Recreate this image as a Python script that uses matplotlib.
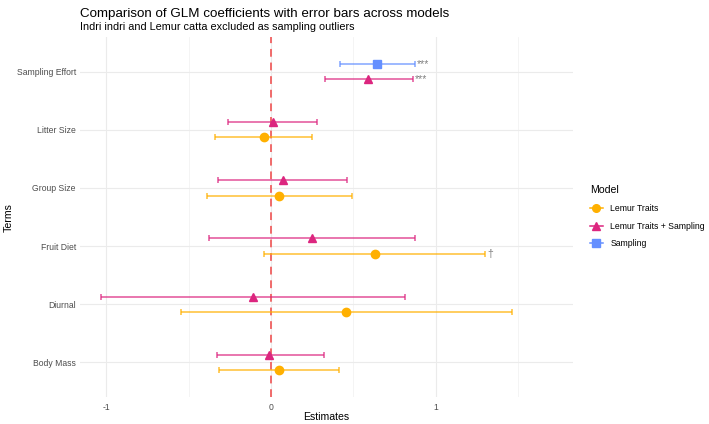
import matplotlib.pyplot as plt
from matplotlib.lines import Line2D
import numpy as np

plt.rcParams['font.family'] = ['Liberation Sans', 'DejaVu Sans']

# Data
terms = ['Body Mass', 'Diurnal', 'Fruit Diet', 'Group Size', 'Litter Size', 'Sampling Effort']
models = ['Lemur Traits', 'Lemur Traits + Sampling', 'Sampling']

lt_terms = ['Body Mass', 'Diurnal', 'Fruit Diet', 'Group Size', 'Litter Size']
lt_est = [0.05, 0.455, 0.63, 0.05, -0.04]
lt_lo = [-0.315, -0.547, -0.04, -0.39, -0.34]
lt_hi = [0.41, 1.46, 1.30, 0.49, 0.25]
lt_sig = ['', '', '†', '', '']

lts_terms = ['Body Mass', 'Diurnal', 'Fruit Diet', 'Group Size', 'Litter Size', 'Sampling Effort']
lts_est = [-0.01, -0.11, 0.25, 0.07, 0.01, 0.59]
lts_lo = [-0.33, -1.03, -0.376, -0.32, -0.26, 0.33]
lts_hi = [0.32, 0.81, 0.87, 0.46, 0.28, 0.86]
lts_sig = ['', '', '', '', '', '***']

s_terms = ['Sampling Effort']
s_est = [0.64]
s_lo = [0.42]
s_hi = [0.87]
s_sig = ['***']

series = {
    'Lemur Traits': (lt_terms, lt_est, lt_lo, lt_hi, lt_sig),
    'Lemur Traits + Sampling': (lts_terms, lts_est, lts_lo, lts_hi, lts_sig),
    'Sampling': (s_terms, s_est, s_lo, s_hi, s_sig),
}
colors = {'Lemur Traits': '#FFB000', 'Lemur Traits + Sampling': '#DC267F', 'Sampling': '#648FFF'}
markers = {'Lemur Traits': 'o', 'Lemur Traits + Sampling': '^', 'Sampling': 's'}

fig = plt.figure(figsize=(7.09, 4.24), dpi=100)
ax = fig.add_axes([0.1128, 0.0637, 0.808 - 0.1128, 0.9127 - 0.0637])

# dodge offsets per term, based on which models are present
dodge = 0.26
present = {t: [m for m in models if t in series[m][0]] for t in terms}

def ypos(term, model):
    ms = present[term]
    n = len(ms)
    i = ms.index(model)
    return terms.index(term) + 1 + (i - (n - 1) / 2) * dodge

for m in models:
    t_list, est, lo, hi, sig = series[m]
    ys = [ypos(t, m) for t in t_list]
    est = np.array(est)
    xerr = [est - np.array(lo), np.array(hi) - est]
    ax.errorbar(est, ys, xerr=xerr, fmt='none', ecolor=colors[m], elinewidth=1.1,
                capsize=2.5, capthick=1.1, alpha=0.8, zorder=3)
    ax.plot(est, ys, linestyle='none', marker=markers[m], color=colors[m],
            markersize=6 if m != 'Sampling' else 5.6, zorder=4)
    for y, h, s in zip(ys, hi, sig):
        if s:
            ax.text(h + 0.012, y, s, color='#808080', fontsize=7.5, ha='left', va='center', zorder=5)

ax.axvline(0, color='#F06A6A', linestyle=(0, (4, 3)), linewidth=1.4, zorder=2)

ax.set_xlim(-1.158, 1.83)
ax.set_ylim(0.4, 6.6)
ax.set_xticks([-1, 0, 1])
ax.set_xticklabels(['-1', '0', '1'])
ax.set_xticks([-0.5, 0.5, 1.5], minor=True)
ax.set_yticks(range(1, len(terms) + 1))
ax.set_yticklabels(terms)
ax.tick_params(axis='both', which='both', length=0, labelsize=6.2, labelcolor='#4D4D4D', pad=3)
ax.tick_params(axis='x', pad=4)
ax.grid(which='major', color='#EBEBEB', linewidth=0.8)
ax.grid(which='minor', axis='x', color='#F3F3F3', linewidth=0.6)
ax.set_axisbelow(True)
for sp in ax.spines.values():
    sp.set_visible(False)

# axis titles
fig.text(0.4605, 0.0165, 'Estimates', fontsize=7.6, ha='center', va='center')
fig.text(0.0125, 0.486, 'Terms', fontsize=7.6, ha='center', va='center', rotation=90)

fig.text(0.1128, 0.982, 'Comparison of GLM coefficients with error bars across models',
         fontsize=9.6, ha='left', va='top')
fig.text(0.1128, 0.947, 'Indri indri and Lemur catta excluded as sampling outliers',
         fontsize=7.8, ha='left', va='top')

handles = [Line2D([0], [0], color=colors[m], marker=markers[m], markersize=5.5, linewidth=1.1)
           for m in models]
leg = fig.legend(handles, models, loc='upper left', bbox_to_anchor=(0.827, 0.571),
                 frameon=False, fontsize=6.2, title='Model', title_fontsize=7.6,
                 handlelength=1.5, handletextpad=0.9, labelspacing=1.0, borderaxespad=0)
leg._legend_box.align = 'left'

fig.savefig('out.png', dpi=100, facecolor='white')
